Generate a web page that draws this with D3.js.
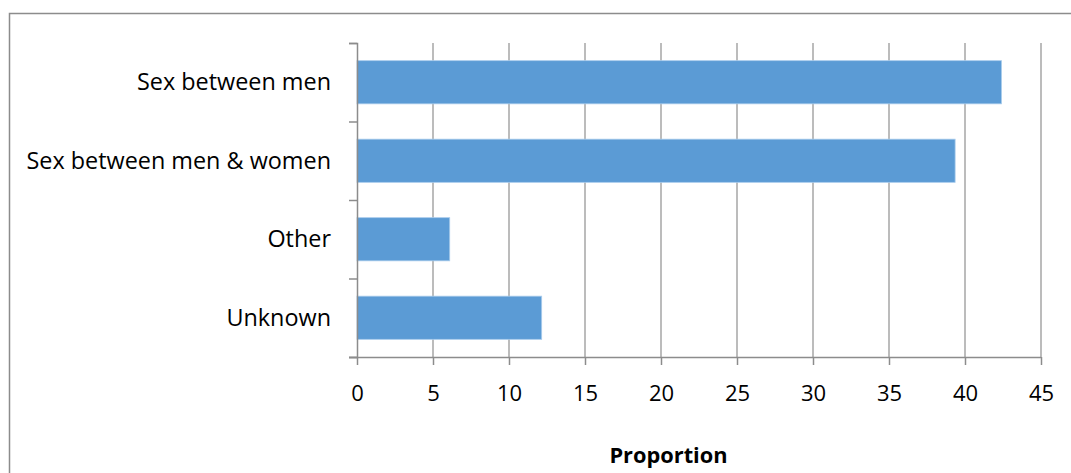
<!DOCTYPE html>
<html>
<head>
<meta charset="utf-8">
<script src="https://cdn.jsdelivr.net/npm/d3@7"></script>
<style>
  html, body { margin: 0; padding: 0; background: #fff; }
  svg { display: block; }
  text { font-family: "Open Sans", "Liberation Sans", sans-serif; fill: #000; }
</style>
</head>
<body>
<svg id="chart" width="1071" height="473"></svg>
<script>
// Transmission route categories and their proportions (%)
const categories = ["Sex between men", "Sex between men & women", "Other", "Unknown"];
const proportions = [42.4, 39.35, 6.1, 12.15];
const xTicks = [0, 5, 10, 15, 20, 25, 30, 35, 40, 45];
const xTitle = "Proportion";

const svg = d3.select("#chart");
const W = 1071, H = 473;
const plot = { left: 357, right: 1041, top: 43, bottom: 357 };
const font = "'Open Sans', 'Liberation Sans', sans-serif";

// Outer chart frame
svg.append("path")
  .attr("d", `M9.5,${H}V13.5H${W}`)
  .attr("fill", "none")
  .attr("stroke", "#8c8c8c")
  .attr("stroke-width", 1.5);

const x = d3.scaleLinear().domain([0, 45]).range([plot.left, plot.right]);
const y = d3.scaleBand().domain(categories).range([plot.top, plot.bottom]).paddingInner(0.45).paddingOuter(0.225);

// Vertical gridlines
svg.append("g")
  .selectAll("line")
  .data(xTicks.slice(1))
  .join("line")
  .attr("x1", d => x(d)).attr("x2", d => x(d))
  .attr("y1", plot.top).attr("y2", plot.bottom)
  .attr("stroke", "#a6a6a6")
  .attr("stroke-width", 1.5);

// Bars
svg.append("g")
  .selectAll("rect")
  .data(categories.map((c, i) => ({ c, v: proportions[i] })))
  .join("rect")
  .attr("x", x(0))
  .attr("y", d => y(d.c))
  .attr("width", d => x(d.v) - x(0))
  .attr("height", y.bandwidth())
  .attr("fill", "#5b9bd5")
  .attr("stroke", "#a9ccec")
  .attr("stroke-width", 0.8);

// Y axis (category boundaries as ticks)
const yEdge = d3.scaleLinear().domain([0, categories.length]).range([plot.top, plot.bottom]);
const yAxis = d3.axisLeft(yEdge).ticks(categories.length).tickSize(8).tickFormat("");
const gy = svg.append("g").attr("transform", `translate(${plot.left},0)`).call(yAxis);
gy.select(".domain").attr("stroke", "#8c8c8c").attr("stroke-width", 1.5);
gy.selectAll(".tick line").attr("stroke", "#8c8c8c").attr("stroke-width", 1.5);

// Category labels
svg.append("g")
  .selectAll("text")
  .data(categories)
  .join("text")
  .attr("x", 331)
  .attr("y", d => y(d) + y.bandwidth() / 2)
  .attr("dy", "0.35em")
  .attr("text-anchor", "end")
  .style("font-size", "23.4px")
  .text(d => d);

// X axis
const xAxis = d3.axisBottom(x).tickValues(xTicks).tickSize(8).tickPadding(20).tickFormat(d3.format("d"));
const gx = svg.append("g").attr("transform", `translate(0,${plot.bottom})`).call(xAxis);
gx.select(".domain").attr("stroke", "#8c8c8c").attr("stroke-width", 1.5)
  .attr("d", `M${plot.left - 8},0.5H${plot.right}`);
gx.selectAll(".tick line").attr("stroke", "#8c8c8c").attr("stroke-width", 1.5);
gx.selectAll(".tick text").style("font-size", "22px").attr("fill", "#000")
  .style("font-family", font);

// X axis title
svg.append("text")
  .attr("x", 668.5)
  .attr("y", 462.5)
  .attr("text-anchor", "middle")
  .style("font-size", "21.8px")
  .style("font-weight", "bold")
  .text(xTitle);
</script>
</body>
</html>
